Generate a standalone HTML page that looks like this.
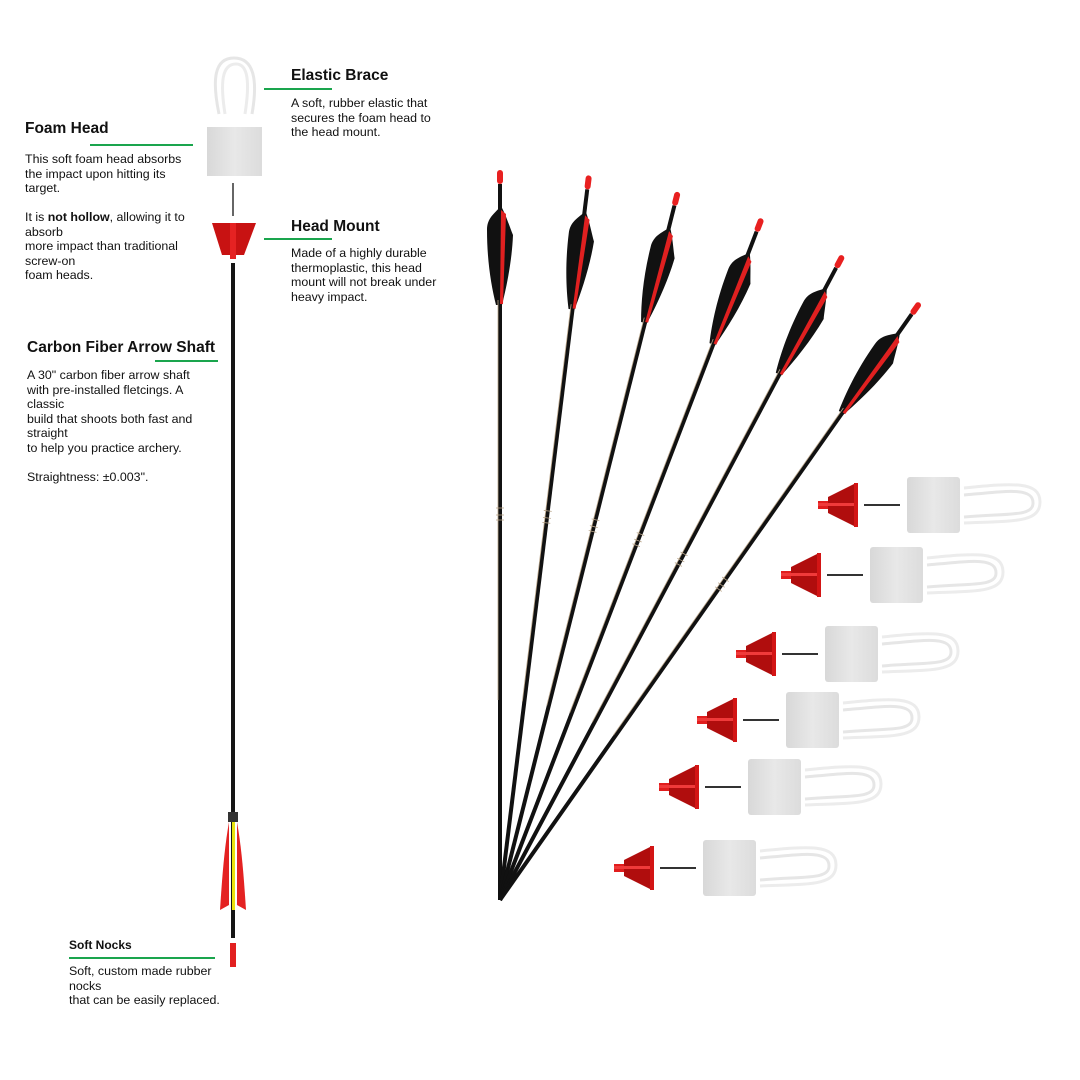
<!DOCTYPE html>
<html><head><meta charset="utf-8"><style>
html,body{margin:0;padding:0;background:#fff}
.wrap{position:relative;width:1080px;height:1080px;overflow:hidden;font-family:"Liberation Sans",sans-serif;color:#111}
.t{position:absolute;font-weight:bold;font-size:15.5px;white-space:nowrap}
.b{position:absolute;font-size:12.4px;line-height:14.5px;white-space:nowrap}
.g{position:absolute;height:2px;background:#1aa54d}
svg{position:absolute;left:0;top:0}
</style></head><body><div class="wrap">
<svg width="1080" height="1080" viewBox="0 0 1080 1080">
<defs>
<linearGradient id="fg" x1="0" x2="1"><stop offset="0" stop-color="#d8d8d8"/><stop offset="0.5" stop-color="#e8e8e8"/><stop offset="1" stop-color="#dcdcdc"/></linearGradient>
<g id="asm">
 <rect x="0" y="-4" width="22" height="8" fill="#e11d1d"/>
 <polygon points="10,-8 38,-22 40,-22 40,22 38,22 10,8" fill="#b00d0d"/>
 <rect x="36" y="-22" width="4" height="44" fill="#d31515"/>
 <rect x="0" y="-2" width="36" height="3" fill="#f03a3a"/>
 <line x1="46" y1="0" x2="82" y2="0" stroke="#333" stroke-width="2"/>
 <rect x="89" y="-28" width="53" height="56" rx="3" fill="url(#fg)"/>
 <path d="M146,-10 C190,-14 215,-18 215,-2 C215,12 190,8 146,12" fill="none" stroke="#e6e6e6" stroke-width="3"/>
 <path d="M146,-17 C195,-22 222,-24 222,-3 C222,18 195,16 146,18" fill="none" stroke="#ececec" stroke-width="3"/>
</g>
<g id="arw">
 <line x1="0" y1="0" x2="0" y2="-716" stroke="#111" stroke-width="4"/>
 <rect x="-3" y="-730" width="6" height="14" rx="3" fill="#e82020"/>
 <path d="M1,-694 C-6,-686 -13,-682 -13,-670 C-13,-640 -9,-615 -4,-595 L2,-595 C7,-615 12,-640 13,-665 C10,-672 6,-685 1,-694Z" fill="#111"/>
 <path d="M1,-690 L6,-686 L3,-596 L0,-596 Z" fill="#e02020"/>
 <g stroke="#b9a58a" stroke-width="0.8"><line x1="-2" y1="-200" x2="-2" y2="-600"/><line x1="-4" y1="-380" x2="4" y2="-380"/><line x1="-4" y1="-385" x2="4" y2="-385"/><line x1="-4" y1="-392" x2="4" y2="-392"/></g>
</g>
</defs>
<g transform="translate(500,900)">
 <use href="#arw"/>
 <use href="#arw" transform="rotate(7)"/>
 <use href="#arw" transform="rotate(14.1)"/>
 <use href="#arw" transform="rotate(21)"/>
 <use href="#arw" transform="rotate(28)"/>
 <use href="#arw" transform="rotate(35.1)"/>
</g>
<use href="#asm" transform="translate(818,505)"/>
<use href="#asm" transform="translate(781,575)"/>
<use href="#asm" transform="translate(736,654)"/>
<use href="#asm" transform="translate(697,720)"/>
<use href="#asm" transform="translate(659,787)"/>
<use href="#asm" transform="translate(614,868)"/>
<path d="M219,114 C212,80 214,58 234,58 C254,58 258,80 252,114" fill="none" stroke="#e6e6e6" stroke-width="3"/>
<path d="M225,114 C220,82 222,64 236,64 C248,64 250,82 245,114" fill="none" stroke="#ececec" stroke-width="3"/>
<rect x="207" y="127" width="55" height="49" fill="url(#fg)"/>
<line x1="233" y1="183" x2="233" y2="216" stroke="#333" stroke-width="1.5"/>
<polygon points="212,223 256,223 244,255 222,255" fill="#c81212"/>
<rect x="230" y="223" width="6" height="36" fill="#e52222"/>
<rect x="231" y="263" width="4" height="675" fill="#151515"/>
<rect x="228" y="812" width="10" height="10" fill="#333"/>
<path d="M229,822 C224,850 222,880 220,910 L229,905 Z" fill="#e42222"/>
<path d="M237,822 C242,850 244,880 246,910 L237,905 Z" fill="#e42222"/>
<rect x="232" y="822" width="3" height="88" fill="#e9e20e"/>
<rect x="230" y="943" width="6" height="24" fill="#e22020"/>
</svg>
<div class="t" style="left:291px;top:67px">Elastic Brace</div>
<div class="g" style="left:264px;top:88px;width:68px"></div>
<div class="b" style="left:291px;top:96px">A soft, rubber elastic that<br>secures the foam head to<br>the head mount.</div>
<div class="t" style="left:25px;top:120px">Foam Head</div>
<div class="g" style="left:90px;top:144px;width:103px"></div>
<div class="b" style="left:25px;top:152px">This soft foam head absorbs<br>the impact upon hitting its<br>target.<br><br>It is <b>not hollow</b>, allowing it to<br>absorb<br>more impact than traditional<br>screw-on<br>foam heads.</div>
<div class="t" style="left:291px;top:218px">Head Mount</div>
<div class="g" style="left:264px;top:238px;width:68px"></div>
<div class="b" style="left:291px;top:246px">Made of a highly durable<br>thermoplastic, this head<br>mount will not break under<br>heavy impact.</div>
<div class="t" style="left:27px;top:339px">Carbon Fiber Arrow Shaft</div>
<div class="g" style="left:155px;top:360px;width:63px"></div>
<div class="b" style="left:27px;top:368px">A 30" carbon fiber arrow shaft<br>with pre-installed fletcings. A<br>classic<br>build that shoots both fast and<br>straight<br>to help you practice archery.<br><br>Straightness: ±0.003".</div>
<div class="t" style="left:69px;top:938px;font-size:12px">Soft Nocks</div>
<div class="g" style="left:69px;top:957px;width:146px"></div>
<div class="b" style="left:69px;top:964px">Soft, custom made rubber<br>nocks<br>that can be easily replaced.</div>
</div></body></html>
